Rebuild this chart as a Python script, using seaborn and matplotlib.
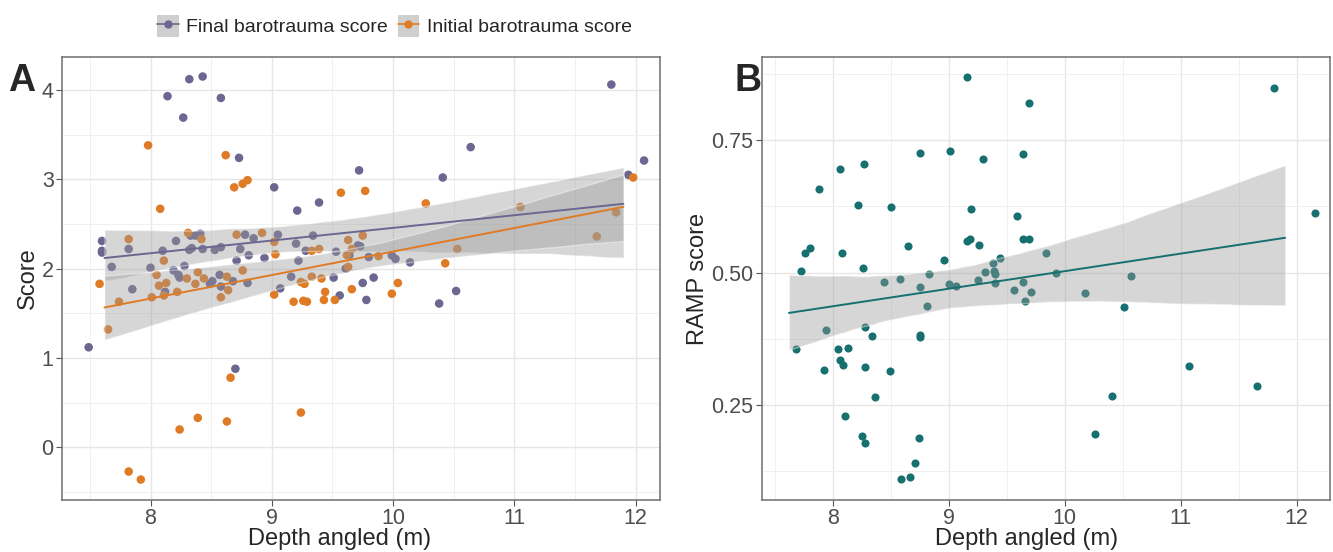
import numpy as np
import pandas as pd
import seaborn as sns
import matplotlib.pyplot as plt
from matplotlib.lines import Line2D
from matplotlib.patches import Patch
from matplotlib.legend_handler import HandlerTuple

# panel A: final barotrauma score (purple)
final_depth = [8.32, 8.43, 8.14, 8.58, 8.27, 8.73, 9.02, 9.72, 9.39, 9.21,
               11.80, 10.64, 10.41, 12.07, 11.94, 9.73, 9.80, 9.99, 10.02, 10.14,
               9.84, 9.75, 9.78, 10.38, 10.52, 7.49, 8.70, 7.85, 8.12, 8.58,
               8.80, 9.07, 9.16, 9.51, 9.56, 7.60, 7.60, 7.60, 7.82, 7.68,
               8.21, 8.33, 8.37, 8.41, 8.32, 8.34, 8.43, 8.10, 8.00, 8.19,
               8.23, 8.24, 8.28, 8.78, 9.05, 8.85, 9.34, 8.53, 8.58, 8.74,
               8.94, 8.81, 8.71, 9.20, 9.28, 9.53, 9.22, 8.51, 8.57, 8.68,
               8.49, 9.61, 9.71, 9.64]
final_score = [4.12, 4.15, 3.93, 3.91, 3.69, 3.24, 2.91, 3.10, 2.74, 2.65,
               4.06, 3.36, 3.02, 3.21, 3.05, 2.25, 2.13, 2.15, 2.11, 2.07,
               1.90, 1.84, 1.65, 1.61, 1.75, 1.12, 0.88, 1.77, 1.74, 1.80,
               1.84, 1.78, 1.91, 1.90, 1.70, 2.31, 2.20, 2.18, 2.22, 2.02,
               2.31, 2.37, 2.37, 2.39, 2.21, 2.23, 2.22, 2.20, 2.01, 1.98,
               1.93, 1.90, 2.03, 2.38, 2.38, 2.34, 2.37, 2.21, 2.24, 2.22,
               2.12, 2.15, 2.09, 2.28, 2.20, 2.19, 2.09, 1.86, 1.93, 1.86,
               1.83, 2.00, 2.26, 2.15]

# panel A: initial barotrauma score (orange)
init_depth = [7.98, 8.62, 8.69, 8.76, 8.80, 8.08, 9.57, 9.77, 11.98, 10.27,
              11.05, 11.68, 11.84, 10.53, 10.43, 9.75, 9.88, 10.04, 9.99, 7.65,
              7.58, 8.66, 8.39, 8.24, 8.63, 9.24, 7.82, 7.92, 7.74, 8.01,
              8.07, 8.13, 8.11, 8.22, 8.37, 8.58, 8.64, 9.02, 9.18, 9.24,
              9.27, 9.26, 9.29, 9.33, 9.41, 9.44, 9.43, 9.52, 9.66, 7.82,
              8.31, 8.42, 8.11, 8.05, 8.39, 8.30, 8.44, 8.71, 8.92, 9.02,
              9.03, 9.33, 9.39, 8.76, 8.63, 9.62, 9.63, 9.63, 9.66]
init_score = [3.38, 3.27, 2.91, 2.95, 2.99, 2.67, 2.85, 2.87, 3.02, 2.73,
              2.69, 2.36, 2.63, 2.22, 2.06, 2.37, 2.14, 1.84, 1.72, 1.32,
              1.83, 0.78, 0.33, 0.20, 0.29, 0.39, -0.27, -0.36, 1.63, 1.68,
              1.81, 1.84, 1.70, 1.74, 1.83, 1.68, 1.76, 1.71, 1.63, 1.85,
              1.83, 1.64, 1.63, 1.91, 1.89, 1.74, 1.65, 1.65, 1.77, 2.33,
              2.40, 2.33, 2.09, 1.93, 1.96, 1.89, 1.89, 2.38, 2.40, 2.30,
              2.16, 2.20, 2.22, 1.98, 1.91, 2.15, 2.02, 2.32, 2.22]

# panel B: RAMP score
ramp_depth = [9.16, 9.69, 8.75, 9.01, 9.29, 9.64, 8.06, 8.27, 7.88, 8.22,
              8.50, 9.19, 9.59, 9.16, 9.18, 9.64, 9.69, 9.26, 8.65, 7.76,
              7.80, 8.08, 8.96, 9.44, 9.38, 7.72, 8.26, 8.83, 9.39, 9.40,
              8.44, 8.58, 9.31, 9.25, 9.00, 9.06, 8.75, 9.40, 9.64, 9.56,
              9.71, 9.66, 11.80, 12.16, 9.84, 9.92, 10.17, 10.57, 10.51, 11.07,
              11.66, 10.41, 10.26, 8.81, 7.68, 7.94, 8.28, 8.34, 8.75, 8.75,
              8.04, 8.13, 7.92, 8.06, 8.09, 8.28, 8.49, 8.36, 8.10, 8.25,
              8.28, 8.74, 8.71, 8.59, 8.66]
ramp_score = [0.869, 0.820, 0.725, 0.729, 0.714, 0.723, 0.696, 0.705, 0.658, 0.627,
              0.624, 0.620, 0.607, 0.560, 0.563, 0.563, 0.563, 0.553, 0.551, 0.537,
              0.547, 0.537, 0.524, 0.527, 0.519, 0.503, 0.509, 0.498, 0.503, 0.498,
              0.482, 0.488, 0.501, 0.486, 0.479, 0.475, 0.473, 0.480, 0.483, 0.467,
              0.463, 0.446, 0.849, 0.612, 0.537, 0.500, 0.461, 0.494, 0.435, 0.324,
              0.286, 0.267, 0.196, 0.437, 0.356, 0.391, 0.398, 0.380, 0.383, 0.378,
              0.356, 0.358, 0.316, 0.335, 0.325, 0.322, 0.314, 0.266, 0.229, 0.192,
              0.179, 0.188, 0.141, 0.110, 0.114]

purple = '#6b6791'
orange = '#e07b25'
teal = '#16706f'
smooth_range = (7.62, 11.90)

dfA = pd.concat([
    pd.DataFrame({'depth': final_depth, 'score': final_score, 'type': 'Final barotrauma score'}),
    pd.DataFrame({'depth': init_depth, 'score': init_score, 'type': 'Initial barotrauma score'})])
dfB = pd.DataFrame({'depth': ramp_depth, 'ramp': ramp_score})

sns.set_style('white')
plt.rcParams['font.family'] = ['Liberation Sans', 'DejaVu Sans']

fig = plt.figure(figsize=(13.33, 5.52), dpi=100)
axA = fig.add_axes([0.0465, 0.094, 0.4485, 0.803])
axB = fig.add_axes([0.5715, 0.094, 0.4265, 0.803])


def style_axis(ax, xlim, ylim, xt, yt, ylab):
    ax.set_xticks(xt)
    ax.set_yticks(yt)
    ax.set_xticks([v + 0.5 for v in xt] + [xt[0] - 0.5], minor=True)
    ystep = yt[1] - yt[0]
    ax.set_yticks([v + ystep / 2 for v in yt] + [yt[0] - ystep / 2], minor=True)
    ax.set_xlim(*xlim)
    ax.set_ylim(*ylim)
    ax.grid(which='major', color='#e6e6e6', lw=1.0)
    ax.grid(which='minor', color='#f0f0f0', lw=0.7)
    ax.set_axisbelow(True)
    for s in ax.spines.values():
        s.set_color('#6e6e6e')
        s.set_linewidth(1.1)
    ax.tick_params(which='major', length=4, color='#555555', labelsize=15.5,
                   labelcolor='#4d4d4d', left=True, bottom=True, pad=2)
    ax.tick_params(which='minor', length=0)
    ax.set_xlabel('Depth angled (m)', fontsize=17, va='center')
    ax.xaxis.set_label_coords(0.465, -0.088)
    ax.set_ylabel(ylab, fontsize=17, labelpad=2)


def smooth(ax, x, y, col):
    # lm line over a fixed depth range, grey ci band drawn over the points
    ax.set_xlim(*smooth_range)
    n0 = len(ax.collections)
    sns.regplot(x=x, y=y, ax=ax, scatter=False, truncate=False, ci=95, n_boot=1000,
                seed=3, color=col, line_kws={'lw': 1.4, 'zorder': 4})
    for c in ax.collections[n0:]:
        c.set_facecolor('#9a9a9a')
        c.set_alpha(0.4)
        c.set_zorder(3)


# A
sns.scatterplot(data=dfA, x='depth', y='score', hue='type', palette=[purple, orange],
                s=38, linewidth=0, ax=axA, legend=False, zorder=2)
smooth(axA, np.array(final_depth), np.array(final_score), purple)
smooth(axA, np.array(init_depth), np.array(init_score), orange)
style_axis(axA, (7.27, 12.20), (-0.59, 4.37), [8, 9, 10, 11, 12], [0, 1, 2, 3, 4], 'Score')

# B
sns.scatterplot(data=dfB, x='depth', y='ramp', color=teal, s=34, linewidth=0, ax=axB, zorder=2)
smooth(axB, np.array(ramp_depth), np.array(ramp_score), teal)
style_axis(axB, (7.386, 12.29), (0.071, 0.907), [8, 9, 10, 11, 12], [0.25, 0.50, 0.75], 'RAMP score')
axB.set_yticklabels(['0.25', '0.50', '0.75'])

fig.text(0.006, 0.835, 'A', fontsize=27, fontweight='bold')
fig.text(0.551, 0.835, 'B', fontsize=27, fontweight='bold')

handles = [(Patch(facecolor='#cfcfcf', edgecolor='none'),
            Line2D([], [], color=purple, marker='o', ms=5, lw=1.2)),
           (Patch(facecolor='#cfcfcf', edgecolor='none'),
            Line2D([], [], color=orange, marker='o', ms=5, lw=1.2))]
fig.legend(handles, ['Final barotrauma score', 'Initial barotrauma score'],
           handler_map={tuple: HandlerTuple(ndivide=1)}, loc='center',
           bbox_to_anchor=(0.296, 0.953), ncol=2, frameon=False, fontsize=14,
           handlelength=1.1, handleheight=1.3, handletextpad=0.4, columnspacing=0.5)

fig.savefig('out.png', dpi=100)
